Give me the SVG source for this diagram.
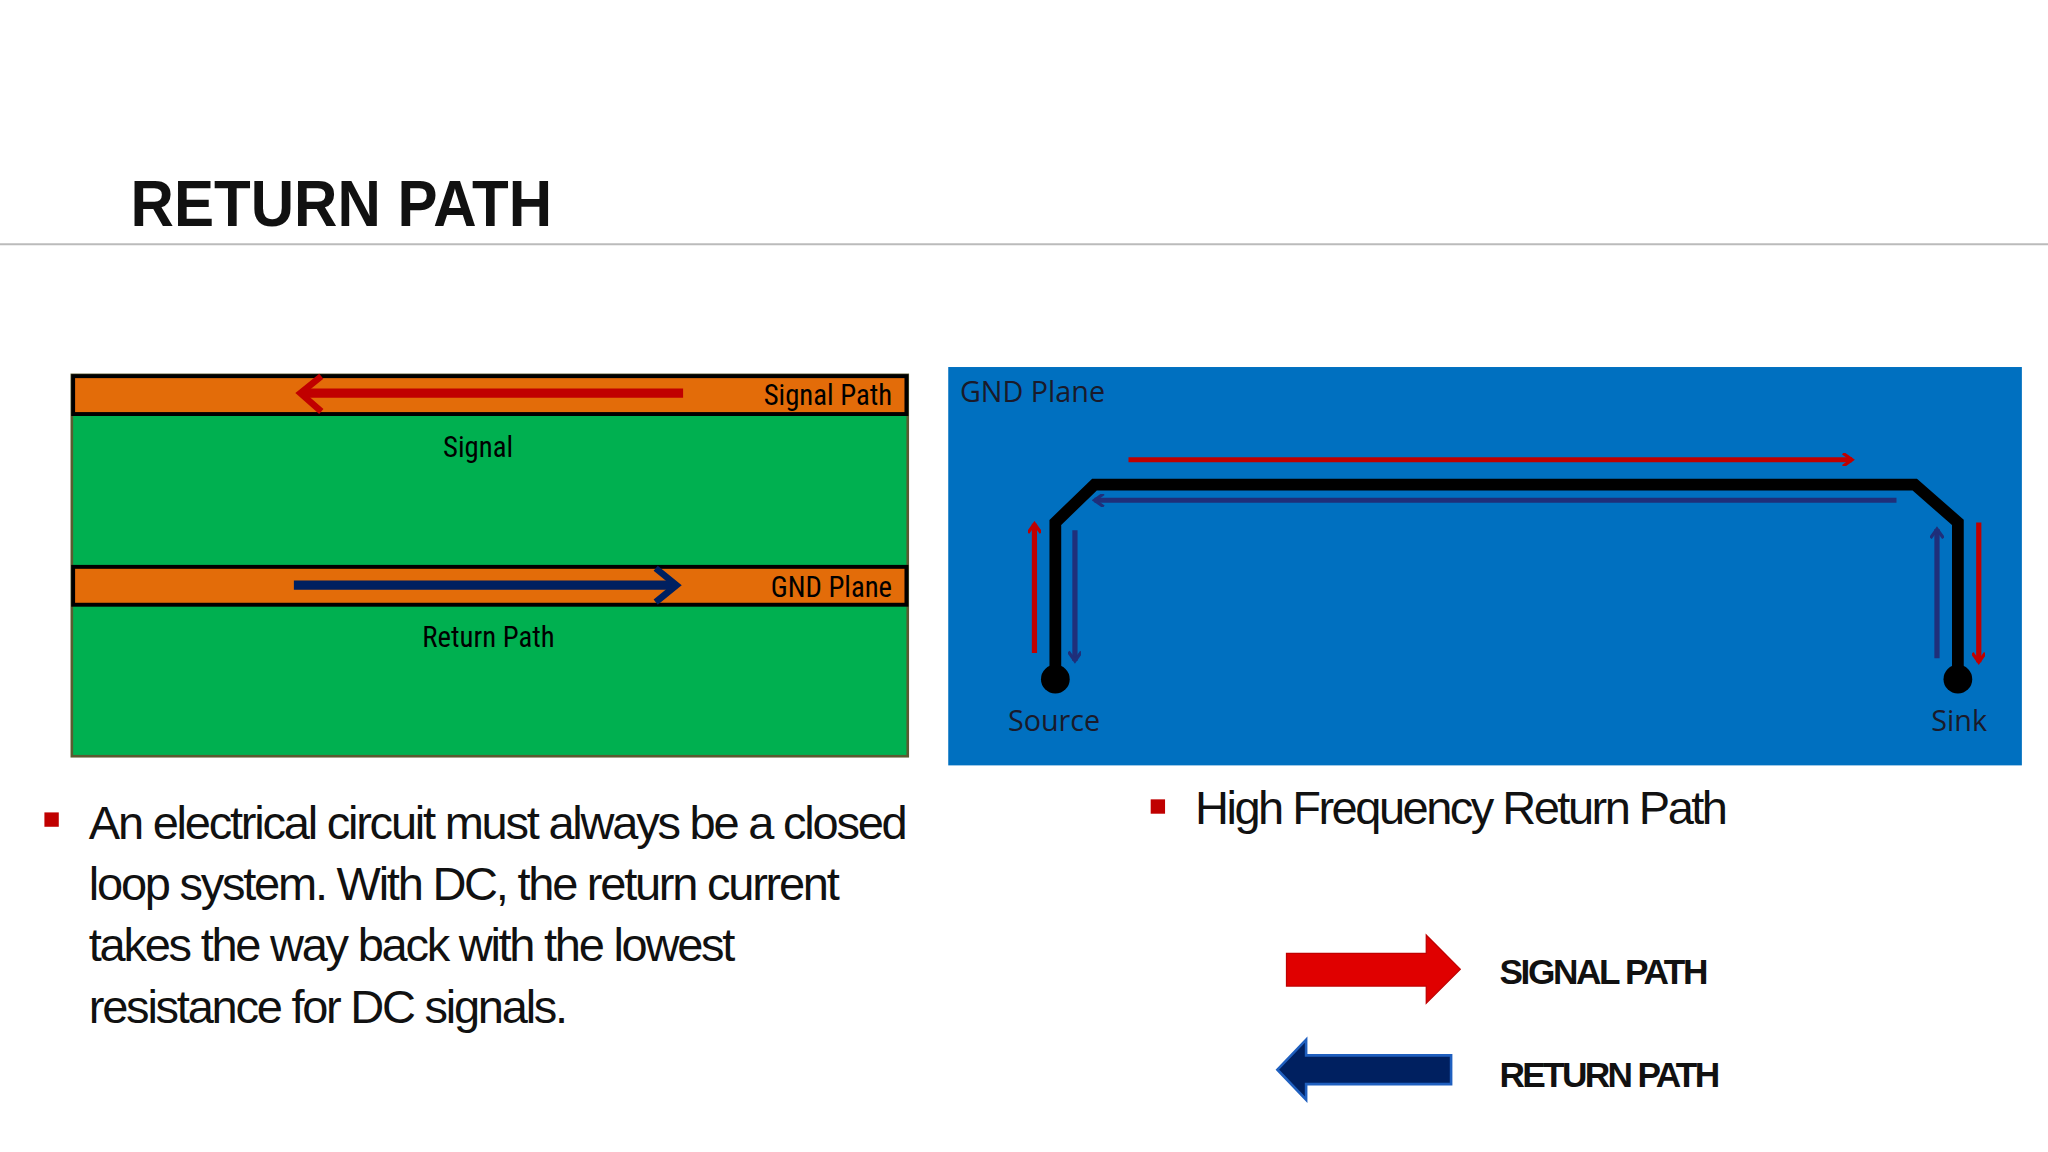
<svg xmlns="http://www.w3.org/2000/svg" width="2048" height="1152" viewBox="0 0 2048 1152">
<style>
.c{font-family:"Open Sans","Liberation Sans",sans-serif}
.n{font-family:"Liberation Sans Narrow","Roboto Condensed","Liberation Sans",sans-serif}
</style>
<defs>
<marker id="ar" markerWidth="10" markerHeight="10" refX="8" refY="5" orient="auto" markerUnits="userSpaceOnUse"><path d="M1,0 L8,5 L1,10" fill="none" stroke="#c00000" stroke-width="2.5"/></marker>
<marker id="ab" markerWidth="10" markerHeight="10" refX="8" refY="5" orient="auto" markerUnits="userSpaceOnUse"><path d="M1,0 L8,5 L1,10" fill="none" stroke="#1f2f7a" stroke-width="2.5"/></marker>
</defs>
<rect width="2048" height="1152" fill="#fff"/>
<g transform="scale(1.30612)">
<text x="100" y="173" font-family="Liberation Sans" font-weight="bold" font-size="50" fill="#111" transform="scale(0.92,1)" style="transform-origin:100px 173px">RETURN PATH</text>
<line x1="0" y1="187" x2="1568" y2="187" stroke="#bbb" stroke-width="1.5"/>
<g id="left-panel">
<rect x="55" y="287" width="640" height="292" fill="#00b050" stroke="#5a5a30" stroke-width="2"/>
<rect x="56" y="288" width="638" height="29" fill="#e36c09" stroke="#000" stroke-width="3"/>
<rect x="56" y="434" width="638" height="29" fill="#e36c09" stroke="#000" stroke-width="3"/>
<line x1="523" y1="301" x2="232" y2="301" stroke="#c00000" stroke-width="7"/>
<path d="M246,288 L230,301 L246,315" fill="none" stroke="#c00000" stroke-width="5"/>
<line x1="225" y1="448" x2="516" y2="448" stroke="#002060" stroke-width="7"/>
<path d="M502,435 L518,448 L502,461" fill="none" stroke="#002060" stroke-width="5"/>
<text x="683" y="310" class="n" font-size="22" text-anchor="end">Signal Path</text>
<text x="683" y="457" class="n" font-size="22" text-anchor="end">GND Plane</text>
<text x="366" y="350" class="n" font-size="22" text-anchor="middle">Signal</text>
<text x="374" y="495" class="n" font-size="22" text-anchor="middle">Return Path</text>
</g>
<g id="right-panel">
<rect x="726" y="281" width="822" height="305" fill="#0070c0"/>
<text x="735" y="308" class="c" font-size="22" fill="#1a1a2a">GND Plane</text>
<text x="807" y="560" class="c" font-size="22" fill="#1a1a2a" text-anchor="middle">Source</text>
<text x="1500" y="560" class="c" font-size="22" fill="#1a1a2a" text-anchor="middle">Sink</text>
<path d="M808,520 L808,400 L838,371 L1466,371 L1499,400 L1499,520" fill="none" stroke="#000" stroke-width="9"/>
<circle cx="808" cy="520" r="11" fill="#000"/>
<circle cx="1499" cy="520" r="11" fill="#000"/>
</g>
<g id="connectors">
<line x1="864" y1="352" x2="1418" y2="352" stroke="#c00000" stroke-width="4" marker-end="url(#ar)"/>
<line x1="1452" y1="383" x2="838" y2="383" stroke="#1f2f7a" stroke-width="4" marker-end="url(#ab)"/>
<line x1="792" y1="500" x2="792" y2="401" stroke="#c00000" stroke-width="4" marker-end="url(#ar)"/>
<line x1="823" y1="406" x2="823" y2="506" stroke="#1f2f7a" stroke-width="4" marker-end="url(#ab)"/>
<line x1="1483" y1="504" x2="1483" y2="405" stroke="#1f2f7a" stroke-width="4" marker-end="url(#ab)"/>
<line x1="1515" y1="400" x2="1515" y2="507" stroke="#c00000" stroke-width="4" marker-end="url(#ar)"/>
</g>
<g id="text-left">
<rect x="34" y="622" width="11" height="11" fill="#c00000"/>
<g font-family="Liberation Sans" font-size="36" fill="#111">
<text x="68" y="642" textLength="627">An electrical circuit must always be a closed</text>
<text x="68" y="689" textLength="575">loop system. With DC, the return current</text>
<text x="68" y="736" textLength="495">takes the way back with the lowest</text>
<text x="68" y="783" textLength="367">resistance for DC signals.</text>
</g>
</g>
<g id="text-right">
<rect x="881" y="612" width="11" height="11" fill="#c00000"/>
<text x="915" y="631" font-family="Liberation Sans" font-size="36" fill="#111" textLength="408">High Frequency Return Path</text>
</g>
<g id="legend">
<path d="M985,730 L1092,730 L1092,716 L1118,742 L1092,768 L1092,755 L985,755 Z" fill="#e00000" stroke="#c00000"/>
<path d="M1111,808 L1000,808 L1000,796 L978,819 L1000,842 L1000,830 L1111,830 Z" fill="#002060" stroke="#1f5fbf" stroke-width="2"/>
<text x="1148" y="753" font-family="Liberation Sans" font-weight="bold" font-size="27" fill="#111" textLength="160">SIGNAL PATH</text>
<text x="1148" y="832" font-family="Liberation Sans" font-weight="bold" font-size="27" fill="#111" textLength="169">RETURN PATH</text>
</g>
</g>
</svg>
